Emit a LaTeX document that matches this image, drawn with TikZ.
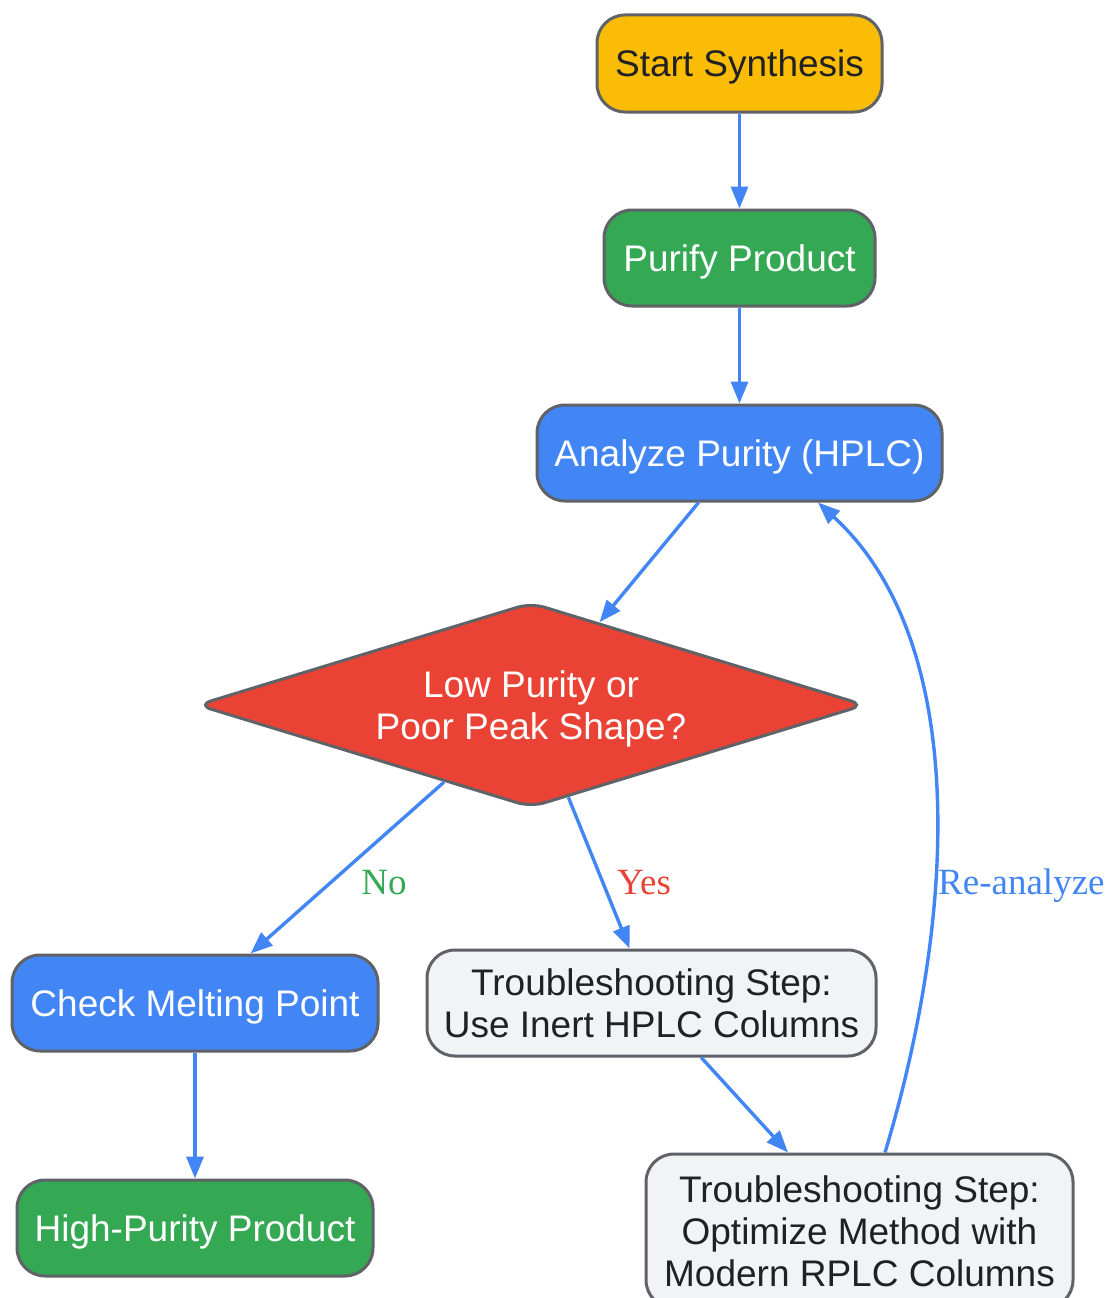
\documentclass[tikz,border=0pt]{standalone}
\usepackage{fontspec}
\setmainfont{Liberation Sans}
\newfontfamily\seriffam{Liberation Serif}
\usetikzlibrary{shapes.geometric,arrows.meta}
\definecolor{cyel}{HTML}{FBBC05}
\definecolor{cgreen}{HTML}{34A853}
\definecolor{cblue}{HTML}{4285F4}
\definecolor{cred}{HTML}{EA4335}
\definecolor{cgrey}{HTML}{F1F3F4}
\definecolor{cbord}{HTML}{5F6368}
\definecolor{cdark}{HTML}{202124}
\begin{document}
\begin{tikzpicture}[x=1pt,y=-1pt,
  box/.style={draw=cbord, line width=3pt, rounded corners=28pt, align=center,
    inner sep=0pt, text depth=-4pt, font=\fontsize{37}{42}\selectfont},
  arr/.style={draw=cblue, line width=3.4pt, -{Triangle[length=22pt,width=17pt]}},
  lbl/.style={font=\seriffam\fontsize{37}{42}\selectfont, inner sep=0pt, text height=25pt, text depth=0pt}]
\clip (0,0) rectangle (1108,1298);
\fill[white] (0,0) rectangle (1108,1298);

\node[box, fill=cyel, text=cdark, minimum width=285pt, minimum height=97pt] (start) at (739.5,63.5) {Start Synthesis};
\node[box, fill=cgreen, text=white, minimum width=271pt, minimum height=96pt] (purify) at (739.5,258) {Purify Product};
\node[box, fill=cblue, text=white, minimum width=405pt, minimum height=96pt] (analyze) at (739.5,453) {Analyze Purity (HPLC)};
\node[diamond, aspect=3.27, draw=cbord, fill=cred, line width=3pt, rounded corners=14pt,
  minimum width=668pt, minimum height=205pt, inner sep=0pt, text=white, align=center,
  text depth=-9pt,
  font=\fontsize{37}{42}\selectfont] (dec) at (531,705) {Low Purity or\\Poor Peak Shape?};
\node[box, fill=cblue, text=white, minimum width=366pt, minimum height=96pt] (melt) at (195,1003) {Check Melting Point};
\node[box, fill=cgreen, text=white, minimum width=356pt, minimum height=96pt] (high) at (195,1228) {High-Purity Product};
\node[box, fill=cgrey, text=cdark, minimum width=449pt, minimum height=106pt] (ts1) at (651.5,1003) {Troubleshooting Step:\\Use Inert HPLC Columns};
\node[box, fill=cgrey, text=cdark, minimum width=427pt, minimum height=154pt] (ts2) at (859.5,1231) {Troubleshooting Step:\\Optimize Method with\\Modern RPLC Columns};

\draw[arr] (start) -- (purify);
\draw[arr] (purify) -- (analyze);
\draw[arr] (analyze) -- (dec);
\draw[arr] (dec) -- (melt);
\draw[arr] (dec) -- (ts1);
\draw[arr] (melt) -- (high);
\draw[arr] (ts1) -- (ts2);
\draw[arr] ([xshift=25.5pt]ts2.north) .. controls (958,910) and (968,640) .. ([xshift=78.5pt]analyze.south);

\node[lbl, text=cgreen] (lno) at (384,882) {No};
\node[lbl, text=cred] (lyes) at (644,882) {Yes};
\node[lbl, text=cblue, anchor=west] (lre) at (938,882) {Re-analyze};
\end{tikzpicture}
\end{document}
